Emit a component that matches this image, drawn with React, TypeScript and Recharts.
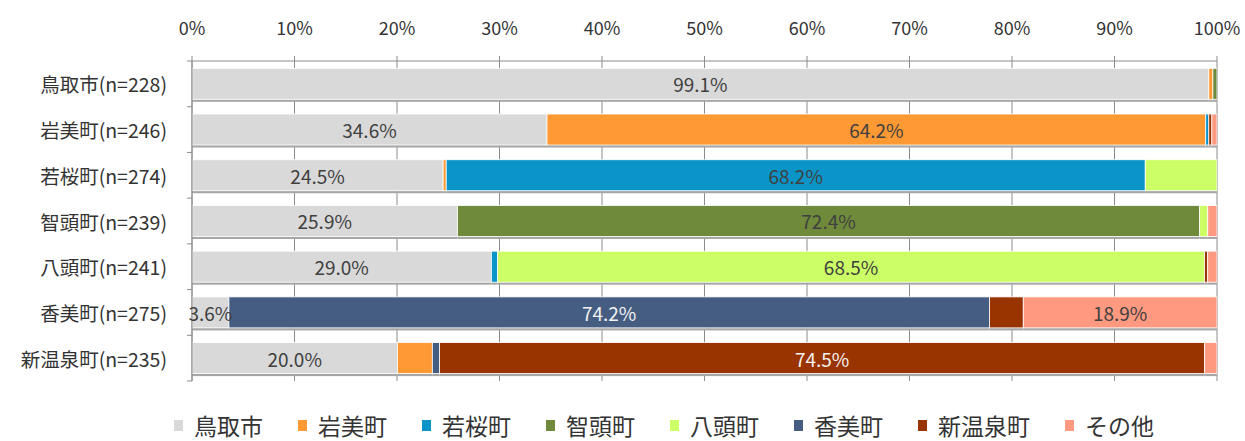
import React from 'react';
import { BarChart, Bar, XAxis, YAxis, CartesianGrid, Legend, LabelList } from 'recharts';

const categories = [
  '鳥取市(n=228)',
  '岩美町(n=246)',
  '若桜町(n=274)',
  '智頭町(n=239)',
  '八頭町(n=241)',
  '香美町(n=275)',
  '新温泉町(n=235)',
];

const tottori = [99.1, 34.6, 24.5, 25.9, 29.0, 3.6, 20.0];
const iwami = [0.4, 64.2, 0.3, 0, 0, 0, 3.4];
const wakasa = [0, 0.3, 68.2, 0, 0.6, 0, 0];
const chizu = [0.4, 0, 0, 72.4, 0, 0, 0];
const yazu = [0, 0, 7.0, 0.8, 68.5, 0, 0];
const kami = [0, 0, 0, 0, 0, 74.2, 0.7];
const shinonsen = [0, 0.3, 0, 0, 0.3, 3.3, 74.5];
const others = [0, 0.5, 0, 0.9, 0.9, 18.9, 1.2];

const xTicks = [0, 0.1, 0.2, 0.3, 0.4, 0.5, 0.6, 0.7, 0.8, 0.9, 1];

const series = [
  { key: 'tottori', name: '鳥取市', values: tottori, color: '#D9D9D9', labelRows: [0, 1, 2, 3, 4, 5, 6], labelColor: '#404040' },
  { key: 'iwami', name: '岩美町', values: iwami, color: '#FF9933', labelRows: [1], labelColor: '#404040' },
  { key: 'wakasa', name: '若桜町', values: wakasa, color: '#0A94C8', labelRows: [2], labelColor: '#404040' },
  { key: 'chizu', name: '智頭町', values: chizu, color: '#6E8A3A', labelRows: [3], labelColor: '#404040' },
  { key: 'yazu', name: '八頭町', values: yazu, color: '#CCFF66', labelRows: [4], labelColor: '#404040' },
  { key: 'kami', name: '香美町', values: kami, color: '#465D82', labelRows: [5], labelColor: '#F2F2F2' },
  { key: 'shinonsen', name: '新温泉町', values: shinonsen, color: '#993300', labelRows: [6], labelColor: '#F2F2F2' },
  { key: 'other', name: 'その他', values: others, color: '#FF9980', labelRows: [5], labelColor: '#404040' },
];

const data = categories.map((name, i) => {
  const row: Record<string, any> = { name };
  series.forEach((s) => {
    row[s.key] = s.values[i];
  });
  return row;
});

const W = 1245;
const H = 441;
const PLOT_TOP = 61;
const LEGEND_H = 60;
const PLOT_H = H - LEGEND_H - PLOT_TOP;
const BAND = PLOT_H / categories.length;
const FONT = "'Noto Sans CJK JP', 'Noto Sans', sans-serif";

const ShadowBar = (props: any) => {
  const { x, y, width, height, fill } = props;
  if (!width || width <= 0) return null;
  return (
    <g>
      <rect x={x} y={y + height} width={width} height={2.5} fill="#A6A6A6" />
      <rect x={x} y={y} width={width} height={height} fill={fill} stroke="#FFFFFF" strokeWidth={0.8} />
    </g>
  );
};

const YTick = (props: any) => {
  const { x, y, payload } = props;
  const axisX = x + 25;
  return (
    <g>
      <text x={x} y={y} textAnchor="end" dominantBaseline="central" fontSize={19.5} fill="#333333" fontFamily={FONT}>
        {payload.value}
      </text>
      <line x1={axisX - 5} x2={axisX} y1={y + BAND / 2} y2={y + BAND / 2} stroke="#8C8C8C" strokeWidth={1} />
      {payload.index === 0 ? (
        <line x1={axisX - 5} x2={axisX} y1={y - BAND / 2} y2={y - BAND / 2} stroke="#8C8C8C" strokeWidth={1} />
      ) : null}
    </g>
  );
};

const makeLabel = (s: (typeof series)[number]) => (props: any) => {
  const { x, y, width, height, index } = props;
  if (!s.labelRows.includes(index)) return null;
  const v = s.values[index];
  return (
    <text
      x={x + width / 2}
      y={y + height / 2}
      textAnchor="middle"
      dominantBaseline="central"
      fontSize={19}
      fill={s.labelColor}
      fontFamily={FONT}
    >
      {v.toFixed(1) + '%'}
    </text>
  );
};

const LegendContent = () => (
  <div
    style={{
      height: LEGEND_H,
      display: 'flex',
      alignItems: 'flex-end',
      justifyContent: 'flex-start',
      paddingLeft: 174,
      paddingBottom: 3,
      boxSizing: 'border-box',
      fontFamily: FONT,
    }}
  >
    {series.map((s) => (
      <div key={s.key} style={{ display: 'flex', alignItems: 'center', marginRight: 35, height: 26, lineHeight: '26px' }}>
        <span style={{ display: 'inline-block', width: 9, height: 11, background: s.color, marginRight: 11 }} />
        <span style={{ fontSize: 23, color: '#333333' }}>{s.name}</span>
      </div>
    ))}
  </div>
);

export default function App() {
  return (
    <div style={{ position: 'absolute', left: 0, top: 0, width: W, height: H, background: '#FFFFFF', fontFamily: FONT, overflow: 'hidden' }}>
      <BarChart
        width={W}
        height={H}
        data={data}
        layout="vertical"
        stackOffset="expand"
        barCategoryGap="16%"
        margin={{ top: 0, right: 28, bottom: 0, left: 0 }}
      >
        <CartesianGrid horizontal={false} vertical={true} stroke="#8C8C8C" strokeWidth={1} />
        <XAxis
          type="number"
          orientation="top"
          domain={[0, 1]}
          ticks={xTicks}
          tickFormatter={(v: number) => `${Math.round(v * 100)}%`}
          height={PLOT_TOP}
          tickSize={5}
          tickMargin={21}
          axisLine={{ stroke: '#8C8C8C' }}
          tickLine={{ stroke: '#8C8C8C' }}
          tick={{ fontSize: 18, fill: '#333333', fontFamily: FONT }}
          allowDataOverflow
        />
        <YAxis
          type="category"
          dataKey="name"
          width={192}
          tickSize={5}
          tickMargin={20}
          tickLine={false}
          axisLine={{ stroke: '#8C8C8C' }}
          tick={<YTick />}
          interval={0}
        />
        <Legend verticalAlign="bottom" align="left" height={LEGEND_H} content={<LegendContent />} wrapperStyle={{ left: 0, width: W }} />
        {series.map((s) => (
          <Bar
            key={s.key}
            dataKey={s.key}
            name={s.name}
            stackId="a"
            fill={s.color}
            isAnimationActive={false}
            shape={<ShadowBar />}
          >
            <LabelList dataKey={s.key} content={makeLabel(s)} />
          </Bar>
        ))}
      </BarChart>
    </div>
  );
}
